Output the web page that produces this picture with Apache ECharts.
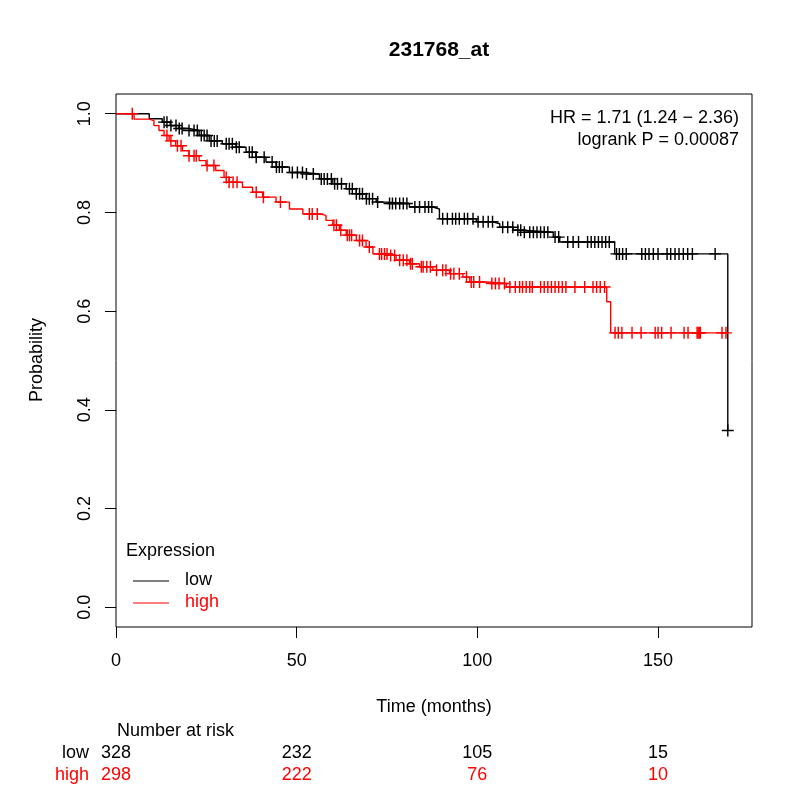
<!DOCTYPE html>
<html>
<head>
<meta charset="utf-8">
<script src="https://cdn.jsdelivr.net/npm/echarts@6/dist/echarts.min.js"></script>
<style>html,body{margin:0;padding:0;background:#fff;}#c{width:800px;height:800px;}</style>
</head>
<body>
<div id="c"></div>
<script>
const titleText = '231768_at';
const timeTicks = [0, 50, 100, 150];
const probTicks = [0, 0.2, 0.4, 0.6, 0.8, 1.0];
const groups = ['low', 'high'];
const groupColors = ['#000000', '#ff0000'];

// Kaplan-Meier step points: [time, survival after step]
const lowCurve = [[0,1.0],[9.2,0.99],[12.8,0.983],[15,0.976],[17.5,0.970],[20.2,0.966],[23,0.956],[25.8,0.945],[29.4,0.939],[33.2,0.932],[36,0.922],[38.7,0.912],[41.5,0.902],[44.3,0.892],[48,0.881],[52,0.878],[56.3,0.868],[60,0.858],[63.7,0.848],[66.5,0.838],[69.2,0.828],[72,0.821],[74.8,0.818],[81.2,0.811],[87.7,0.807],[89.5,0.787],[99.7,0.781],[104.3,0.777],[106.2,0.770],[109.9,0.764],[112.5,0.760],[121,0.750],[122.8,0.740],[138,0.716],[169.3,0.358]];
const highCurve = [[0,1.0],[5,0.989],[9.1,0.986],[10.5,0.976],[11.9,0.966],[13.3,0.956],[14.7,0.945],[16.5,0.935],[18.4,0.925],[20.2,0.915],[23,0.905],[24.9,0.895],[27.6,0.885],[29.9,0.871],[31.3,0.861],[35,0.851],[37.8,0.841],[40.6,0.831],[44.3,0.821],[48,0.807],[51.7,0.797],[56.3,0.794],[58.1,0.784],[60,0.774],[61.8,0.764],[63.7,0.754],[66.5,0.743],[69.2,0.730],[71.1,0.716],[75.7,0.713],[77.5,0.703],[81.2,0.696],[84,0.690],[87.7,0.683],[92.3,0.676],[96,0.669],[97.9,0.659],[102.5,0.656],[108,0.649],[135.8,0.619],[136.9,0.556],[168.8,0.556]];

// censoring times
const lowCensor = [13.3,14.1,15.2,16.6,17.5,18.3,20.2,21.6,22.5,23.6,24.4,25.2,26.3,27.2,28,30.5,31.3,32.2,33.3,34.1,36.9,37.7,38.8,41,43.2,44.4,45.2,46,48.8,50.2,51.6,52.7,54.6,56.8,57.6,58.5,59.6,60.5,61.3,62.4,64.6,65.4,66.5,67.4,68.2,69.3,70.1,71,72.4,75.7,76.5,77.4,78.5,79.5,80.5,82.7,84,85.5,86.5,87.4,90.4,91.7,93.1,94,95,96.4,97.3,98.8,100.2,101.6,103,104.2,107,108.4,109.8,111.2,112,113,114.5,115.5,116.5,117.5,118.5,119.5,121.5,122.5,125,126.5,128,130.5,131.5,132.5,133.5,134.5,135.5,136.5,138.5,139.3,140.2,141.2,145.5,146.5,147.5,148.7,150,152.5,153.5,154.7,155.8,157,158.2,159.5,165.8,169.3];
const highCensor = [4.5,14.1,15.2,17,18,20.2,21.6,22.2,25.2,27.1,30.5,31.3,32.4,33.5,38.8,40.8,45.5,53.5,54.3,55.7,60.3,61,62.2,64,64.6,65.2,67.4,68.2,70.1,72.9,73.5,74.3,75,76,77.1,78.5,79.5,80.5,81.5,82,84.5,85,86,87,88.7,90.4,91.3,92.6,93.5,95,97,98.3,99,100.6,104,105,106,107.5,109,110.5,111.7,112.5,113.5,114.5,115.2,117.5,118.5,119.5,120.5,121.5,122.5,123.5,124.5,127,129.7,132,133,134,135.2,138.1,139,140,142.8,145.3,149.2,150,151,153.6,157.2,158.3,160.8,161.1,161.4,161.7,167.7,168.8];

const riskTimes = [0, 50, 100, 150];
const riskLow = [328, 232, 105, 15];
const riskHigh = [298, 222, 76, 10];

const hrLines = ['HR = 1.71 (1.24 \u2212 2.36)', 'logrank P = 0.00087'];

const FONT = '"Liberation Sans", Arial, Helvetica, sans-serif';
const CROSS = 'path://M4.4,0H5.6V10H4.4Z M0,4.4H10V5.6H0Z';

function survAt(curve, t) {
  let s = curve[0][1];
  for (const p of curve) { if (p[0] <= t) s = p[1]; else break; }
  return s;
}

const chart = echarts.init(document.getElementById('c'), null, {renderer: 'canvas'});

const curves = [lowCurve, highCurve];
const censors = [lowCensor, highCensor];
const series = [];
groups.forEach((g, i) => {
  series.push({
    name: g, type: 'line', step: 'end', data: curves[i], symbol: 'none',
    lineStyle: {color: groupColors[i], width: 1.4}, z: 3
  });
  series.push({
    name: g + ' censored', type: 'scatter', symbol: CROSS, symbolSize: 12,
    data: censors[i].map(t => [t, survAt(curves[i], t)]),
    itemStyle: {color: groupColors[i], opacity: 1}, z: 4
  });
});

const option = {
  animation: false,
  backgroundColor: '#ffffff',
  title: {
    text: titleText, left: 434, top: 35, textAlign: 'center',
    textStyle: {fontFamily: FONT, fontWeight: 'bold', fontSize: 21, color: '#000'}
  },
  grid: {left: 116, right: 48, top: 94, bottom: 173, show: true, borderColor: '#000', borderWidth: 1, backgroundColor: 'transparent'},
  xAxis: {
    type: 'value', min: 0, max: 176,
    axisLine: {show: false, onZero: false},
    axisTick: {show: true, inside: false, length: 11, lineStyle: {color: '#000', width: 1}, customValues: timeTicks},
    axisLabel: {customValues: timeTicks, margin: 25, fontFamily: FONT, fontSize: 18, color: '#000'},
    splitLine: {show: false}
  },
  yAxis: {
    type: 'value', min: -0.04, max: 1.04,
    axisLine: {show: false, onZero: false},
    axisTick: {show: true, inside: false, length: 11, lineStyle: {color: '#000', width: 1}, customValues: probTicks},
    axisLabel: {customValues: probTicks, rotate: 90, margin: 22, fontFamily: FONT, fontSize: 18, color: '#000',
      formatter: v => v.toFixed(1)},
    splitLine: {show: false}
  },
  series: series
};
chart.setOption(option);

const gfx = [];
function txt(text, x, y, opts) {
  gfx.push(Object.assign({
    type: 'text', x: x, y: y, silent: true,
    style: Object.assign({text: text, fill: '#000', font: '18px ' + FONT, textAlign: 'center', textVerticalAlign: 'middle'}, (opts && opts.style) || {})
  }, opts && opts.rotation !== undefined ? {rotation: opts.rotation} : {}));
}
txt('Probability', 37, 360, {rotation: Math.PI / 2});
txt('Time (months)', 434, 707);
txt('Number at risk', 117, 731, {style: {textAlign: 'left'}});
txt(hrLines[0], 739, 118, {style: {textAlign: 'right'}});
txt(hrLines[1], 739, 140, {style: {textAlign: 'right'}});
// legend
txt('Expression', 126, 551, {style: {textAlign: 'left'}});
groups.forEach((g, i) => {
  const y = 581 + i * 22;
  gfx.push({type: 'line', silent: true, shape: {x1: 133, y1: y, x2: 169, y2: y}, style: {stroke: groupColors[i], lineWidth: 1.2}});
  txt(g, 185, y - 1, {style: {textAlign: 'left', fill: groupColors[i]}});
});
// number at risk table
const riskRows = [riskLow, riskHigh];
groups.forEach((g, i) => {
  const y = 753 + i * 22;
  txt(g, 89, y, {style: {textAlign: 'right', fill: groupColors[i]}});
  riskTimes.forEach((t, j) => {
    const px = chart.convertToPixel({xAxisIndex: 0}, t);
    txt(String(riskRows[i][j]), px, y, {style: {fill: groupColors[i]}});
  });
});
chart.setOption({graphic: {elements: gfx}});
</script>
</body>
</html>
